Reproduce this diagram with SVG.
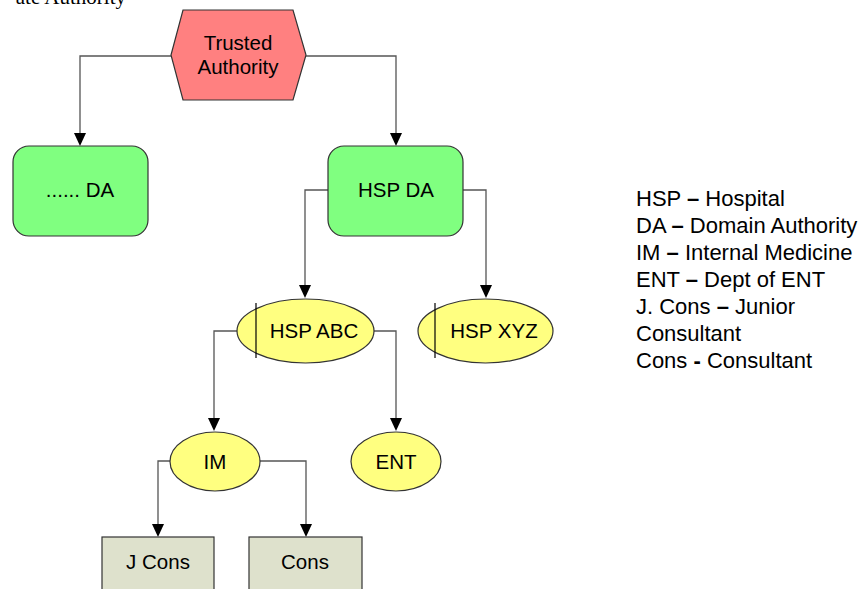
<svg xmlns="http://www.w3.org/2000/svg" width="868" height="589" viewBox="0 0 868 589">
<style>
.lbl{font-family:"Liberation Sans",Arial,sans-serif;font-size:20.5px;fill:#000;text-anchor:middle}
.leg{font-family:"Liberation Sans",Arial,sans-serif;font-size:22px;fill:#000}
.con{fill:none;stroke:#555;stroke-width:1.3}
.node{stroke:#333;stroke-width:1.2}
</style>
<rect width="868" height="589" fill="#fff"/>
<text x="126" y="4" text-anchor="end" style="font-family:'Liberation Serif',serif;font-size:21px">ate Authority</text>
<g id="connectors">
<polyline class="con" points="171,56 80,56 80,133"/>
<path d="M74,133 L86,133 L80,146 Z" fill="#000"/>
<polyline class="con" points="306,56 396,56 396,133"/>
<path d="M390,133 L402,133 L396,146 Z" fill="#000"/>
<polyline class="con" points="328,190 305,190 305,285"/>
<path d="M299,285 L311,285 L305,298 Z" fill="#000"/>
<polyline class="con" points="463,190 486,190 486,285"/>
<path d="M480,285 L492,285 L486,298 Z" fill="#000"/>
<polyline class="con" points="237,331 214,331 214,418"/>
<path d="M208,418 L220,418 L214,431 Z" fill="#000"/>
<polyline class="con" points="374,331 396,331 396,418"/>
<path d="M390,418 L402,418 L396,431 Z" fill="#000"/>
<polyline class="con" points="170,461 158,461 158,524"/>
<path d="M152,524 L164,524 L158,537 Z" fill="#000"/>
<polyline class="con" points="260,461 306,461 306,524"/>
<path d="M300,524 L312,524 L306,537 Z" fill="#000"/>
</g>
<g id="trusted">
<polygon class="node" points="171,55 183,10 293,10 306,55 293,100 183,100" fill="#FF8080"/>
<text class="lbl" x="238" y="50">Trusted</text>
<text class="lbl" x="238" y="74">Authority</text>
</g>
<g id="da1">
<rect class="node" x="13" y="146" width="135" height="90" rx="16" fill="#80FF80"/>
<text class="lbl" x="80" y="197">...... DA</text>
</g>
<g id="hspda">
<rect class="node" x="328" y="146" width="135" height="90" rx="16" fill="#80FF80"/>
<text class="lbl" x="396" y="197">HSP DA</text>
</g>
<g id="hspabc">
<ellipse class="node" cx="305.5" cy="331" rx="68.5" ry="32" fill="#FFFF80"/>
<line x1="256" y1="303" x2="256" y2="358" stroke="#000" stroke-width="1.2"/>
<text class="lbl" x="314" y="338">HSP ABC</text>
</g>
<g id="hspxyz">
<ellipse class="node" cx="485.5" cy="331" rx="67.5" ry="32" fill="#FFFF80"/>
<line x1="435" y1="303" x2="435" y2="358" stroke="#000" stroke-width="1.2"/>
<text class="lbl" x="494" y="338">HSP XYZ</text>
</g>
<g id="im">
<ellipse class="node" cx="215" cy="461.5" rx="45" ry="29.5" fill="#FFFF80"/>
<text class="lbl" x="215" y="469">IM</text>
</g>
<g id="ent">
<ellipse class="node" cx="396" cy="461.5" rx="45" ry="29.5" fill="#FFFF80"/>
<text class="lbl" x="396" y="469">ENT</text>
</g>
<g id="jcons">
<rect class="node" x="102" y="537" width="112" height="60" fill="#DEE1CC"/>
<text class="lbl" x="158" y="569">J Cons</text>
</g>
<g id="cons">
<rect class="node" x="249" y="537" width="113" height="60" fill="#DEE1CC"/>
<text class="lbl" x="305" y="569">Cons</text>
</g>
<g id="legend">
<text class="leg" x="636" y="206">HSP <tspan font-weight="bold">–</tspan> Hospital</text>
<text class="leg" x="636" y="233">DA <tspan font-weight="bold">–</tspan> Domain Authority</text>
<text class="leg" x="636" y="260">IM <tspan font-weight="bold">–</tspan> Internal Medicine</text>
<text class="leg" x="636" y="287">ENT <tspan font-weight="bold">–</tspan> Dept of ENT</text>
<text class="leg" x="636" y="314">J. Cons <tspan font-weight="bold">–</tspan> Junior</text>
<text class="leg" x="636" y="341">Consultant</text>
<text class="leg" x="636" y="368">Cons <tspan font-weight="bold">-</tspan> Consultant</text>
</g>
</svg>
